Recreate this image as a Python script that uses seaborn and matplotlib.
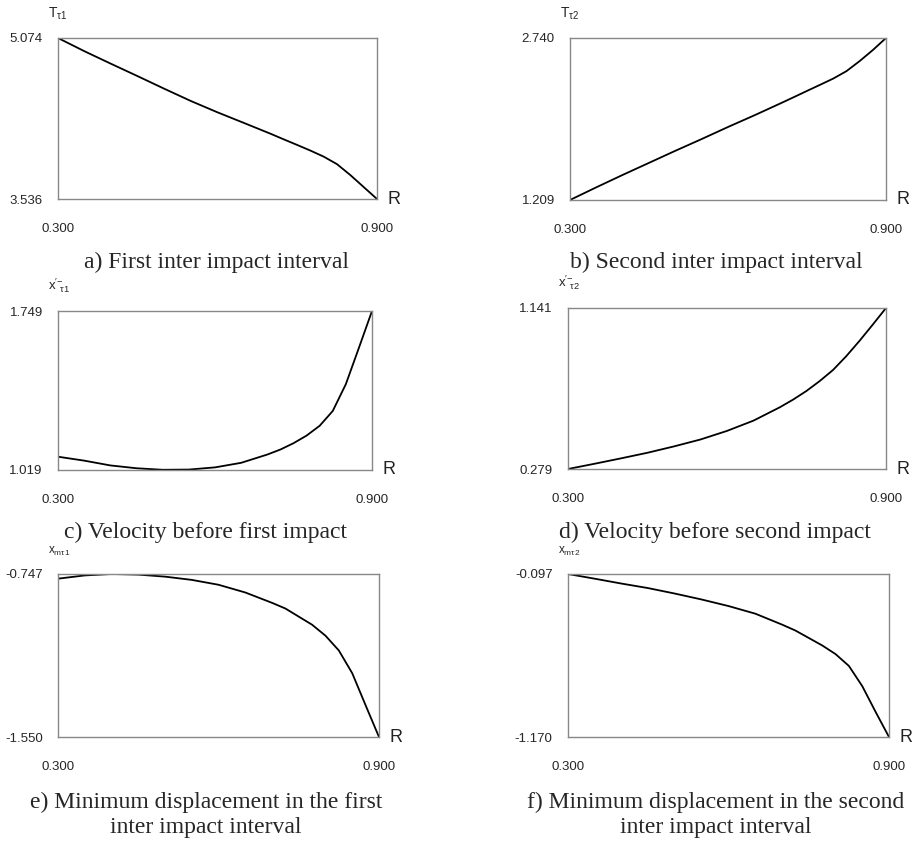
import matplotlib
matplotlib.use("Agg")
import matplotlib.pyplot as plt
import seaborn as sns
import pandas as pd

r = [0.30, 0.35, 0.40, 0.45, 0.50, 0.55, 0.60, 0.65, 0.70, 0.725, 0.75, 0.775,
     0.80, 0.825, 0.85, 0.875, 0.90]

# a) first inter impact interval
t_tau1 = [5.074, 4.947, 4.827, 4.709, 4.589, 4.472, 4.364, 4.262, 4.159, 4.105, 4.052, 3.998,
          3.940, 3.868, 3.764, 3.650, 3.536]
# b) second inter impact interval
t_tau2 = [1.209, 1.329, 1.446, 1.560, 1.674, 1.785, 1.899, 2.009, 2.123, 2.181, 2.240, 2.298,
          2.357, 2.427, 2.522, 2.626, 2.740]
# c) velocity before first impact
v_tau1 = [1.080, 1.062, 1.040, 1.027, 1.020, 1.021, 1.031, 1.052, 1.090, 1.113, 1.142, 1.177,
          1.222, 1.290, 1.413, 1.580, 1.749]
# d) velocity before second impact
v_tau2 = [0.279, 0.307, 0.336, 0.366, 0.400, 0.437, 0.483, 0.538, 0.610, 0.651, 0.697, 0.750,
          0.809, 0.883, 0.965, 1.052, 1.141]
# e) min displacement, first interval
xm_tau1 = [-0.770, -0.754, -0.747, -0.750, -0.760, -0.776, -0.800, -0.838, -0.889, -0.917, -0.957, -0.997,
           -1.051, -1.124, -1.236, -1.394, -1.550]
# f) min displacement, second interval
xm_tau2 = [-0.097, -0.128, -0.160, -0.190, -0.226, -0.265, -0.308, -0.358, -0.430, -0.469, -0.518, -0.567,
           -0.624, -0.702, -0.835, -1.005, -1.170]

y_limits = [(3.536, 5.074), (1.209, 2.740), (1.019, 1.749),
            (0.279, 1.141), (-1.550, -0.747), (-1.170, -0.097)]
x_ticks = [0.3, 0.9]
x_ticklabels = ["0.300", "0.900"]

y_names = [r"$\mathregular{T_{\tau1}}$", r"$\mathregular{T_{\tau2}}$",
           r"$\mathregular{x'^{-}_{\ \tau1}}$", r"$\mathregular{x'^{-}_{\ \tau2}}$",
           r"$\mathregular{x_{m\tau1}}$", r"$\mathregular{x_{m\tau2}}$"]
captions = ["a) First inter impact interval", "b) Second inter impact interval",
            "c) Velocity before first impact", "d) Velocity before second impact",
            "e) Minimum displacement in the first\ninter impact interval",
            "f) Minimum displacement in the second\ninter impact interval"]

sns.set_style("white")
plt.rcParams["font.family"] = ["Liberation Sans", "DejaVu Sans"]

W, H = 914, 841
fig = plt.figure(figsize=(W / 100, H / 100), dpi=100)

# box positions in pixels: left, right, top, bottom
boxes = [(58, 377, 38, 199), (570, 886, 38, 200),
         (58, 372, 311, 470), (568, 886, 308, 469),
         (58, 379, 574, 737), (568, 889, 574, 737)]
cap_pos = [(217, 262), (716, 262), (206, 532), (715, 532), (206, 815), (716, 815)]
label_size = [10, 10, 9.5, 9.5, 8.5, 8.5]

series = [t_tau1, t_tau2, v_tau1, v_tau2, xm_tau1, xm_tau2]

for i, ys in enumerate(series):
    l, rr, t, b = boxes[i]
    ax = fig.add_axes([l / W, 1 - b / H, (rr - l) / W, (b - t) / H])
    df = pd.DataFrame({"R": r, "y": ys})
    sns.lineplot(data=df, x="R", y="y", ax=ax, color="black", linewidth=1.3,
                 solid_joinstyle="round")
    lo, hi = y_limits[i]
    ax.set_xlim(0.3, 0.9)
    ax.set_ylim(lo, hi)
    ax.set_xticks(x_ticks)
    ax.set_xticklabels(x_ticklabels)
    ax.set_yticks([lo, hi])
    ax.set_yticklabels([f"{lo:.3f}", f"{hi:.3f}"])
    ax.tick_params(length=0, labelsize=9.5)
    ax.tick_params(axis="x", pad=17)
    ax.tick_params(axis="y", pad=11)
    ax.set_xlabel("")
    ax.set_ylabel("")
    for sp in ax.spines.values():
        sp.set_color("#888888")
        sp.set_linewidth(1.0)
    ax.annotate("R", xy=(1, 0), xycoords="axes fraction", xytext=(17, 0),
                textcoords="offset pixels", ha="center", va="center",
                fontsize=13, color="#222222")
    ax.annotate(y_names[i], xy=(0, 1), xycoords="axes fraction", xytext=(-10, 16),
                textcoords="offset pixels", ha="left", va="bottom",
                fontsize=label_size[i])
    cx, cy = cap_pos[i]
    fig.text(cx / W, 1 - cy / H, captions[i], ha="center", va="center",
             family="Liberation Serif", fontsize=17, linespacing=1.3)

fig.savefig("out.png", dpi=100)
